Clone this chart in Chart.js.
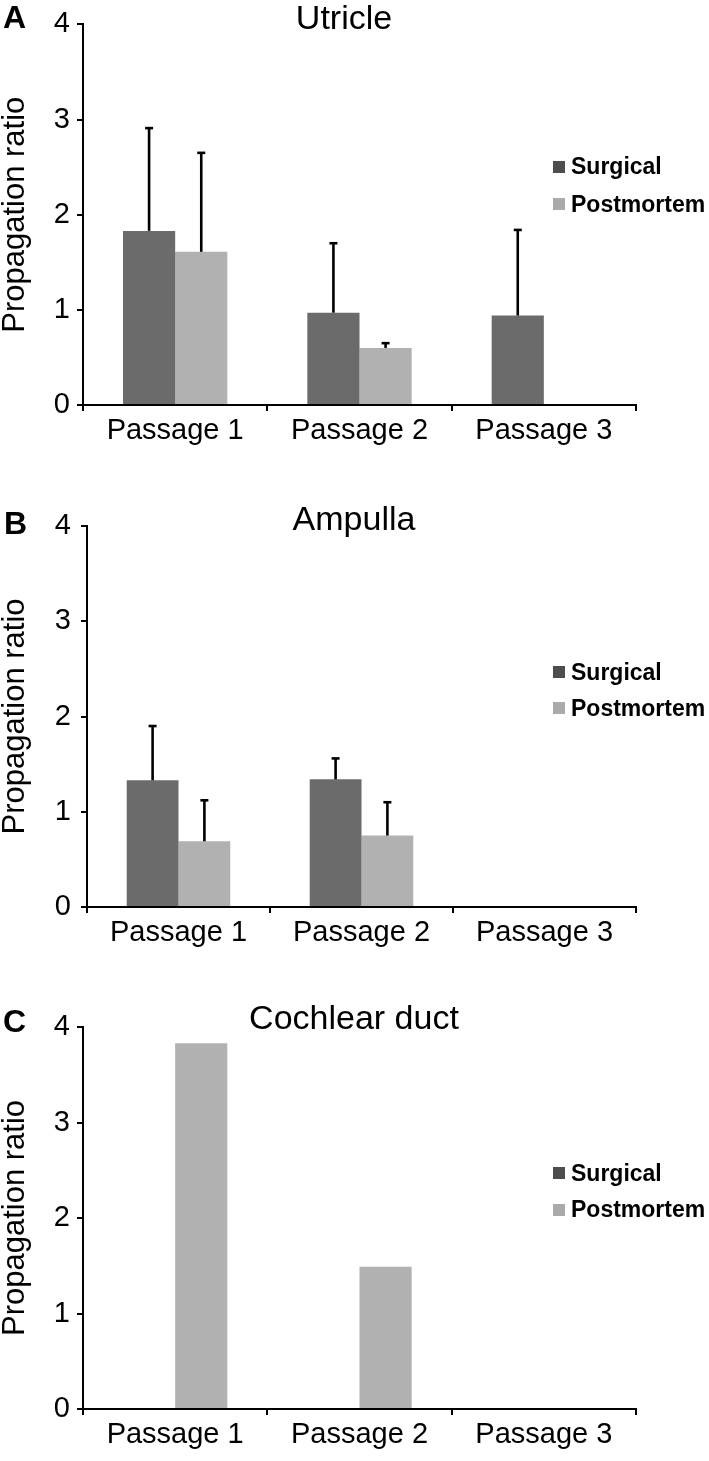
<!DOCTYPE html>
<html><head><meta charset="utf-8">
<script src="https://cdn.jsdelivr.net/npm/chart.js@4.4.0/dist/chart.umd.min.js"></script>
<style>
html,body{margin:0;padding:0;background:#fff;overflow:hidden;width:709px;height:1461px;position:relative;font-family:"Liberation Sans",Arial,sans-serif;color:#000}
canvas{position:absolute;left:0}
.title{position:absolute;width:400px;text-align:center;font-size:34px;line-height:34px;white-space:nowrap}
.letter{position:absolute;font-weight:bold;font-size:32px;line-height:32px}
.legrow{position:absolute;left:553px;height:28px;display:flex;align-items:center;font-weight:bold;font-size:23px;white-space:nowrap}
.sw{width:12px;height:12px;margin-right:6px;flex:none}
</style></head>
<body>
<script>
// ---- data ----
const categories = ['Passage 1', 'Passage 2', 'Passage 3'];
const seriesNames = ['Surgical', 'Postmortem'];
const yTicks = [0, 1, 2, 3, 4];
const panelTitles = ['Utricle', 'Ampulla', 'Cochlear duct'];
const panelLetters = ['A', 'B', 'C'];
const yAxisTitle = 'Propagation ratio';

const utricleSurgical = [1.83, 0.97, 0.94];
const utricleSurgicalErr = [1.08, 0.73, 0.90];
const utriclePostmortem = [1.61, 0.60, null];
const utriclePostmortemErr = [1.04, 0.05, null];

const ampullaSurgical = [1.33, 1.34, null];
const ampullaSurgicalErr = [0.57, 0.22, null];
const ampullaPostmortem = [0.69, 0.75, null];
const ampullaPostmortemErr = [0.43, 0.35, null];

const cochlearSurgical = [null, null, null];
const cochlearPostmortem = [3.83, 1.49, null];

// ---- styles / layout ----
const barColors = ['#6b6b6b', '#b1b1b1'];
const legendColors = ['#4d4d4d', '#aaaaaa'];
const FONT = '"Liberation Sans", Arial, sans-serif';

const panels = [
  {series: [utricleSurgical, utriclePostmortem], errs: [utricleSurgicalErr, utriclePostmortemErr],
   top: 0, height: 455, padTop: 22, axisLeft: 83, tickPad: 7,
   titleCenter: 344, titleBaseline: 28.5, letterX: 3, letterBaseline: 28.3, leg: [166.5, 204]},
  {series: [ampullaSurgical, ampullaPostmortem], errs: [ampullaSurgicalErr, ampullaPostmortemErr],
   top: 470, height: 487, padTop: 56, axisLeft: 87, tickPad: 10,
   titleCenter: 354, titleBaseline: 530, letterX: 4, letterBaseline: 534, leg: [672, 708]},
  {series: [cochlearSurgical, cochlearPostmortem], errs: [null, null],
   top: 970, height: 489, padTop: 57, axisLeft: 83, tickPad: 7,
   titleCenter: 354, titleBaseline: 1029, letterX: 3, letterBaseline: 1031.5, leg: [1173, 1209.5]}
];

const errorBars = {
  id: 'errorBars',
  afterDatasetsDraw(chart) {
    const ctx = chart.ctx, ys = chart.scales.y;
    chart.data.datasets.forEach((ds, i) => {
      if (!ds.errors) return;
      const meta = chart.getDatasetMeta(i);
      meta.data.forEach((bar, j) => {
        const v = ds.data[j], e = ds.errors[j];
        if (v == null || e == null) return;
        const yTop = ys.getPixelForValue(v + e);
        ctx.save();
        ctx.strokeStyle = '#000';
        ctx.lineWidth = 2.6;
        ctx.beginPath(); ctx.moveTo(bar.x, bar.y); ctx.lineTo(bar.x, yTop); ctx.stroke();
        ctx.beginPath(); ctx.moveTo(bar.x - 4, yTop); ctx.lineTo(bar.x + 4, yTop); ctx.stroke();
        ctx.restore();
      });
    });
  }
};

panels.forEach((p, k) => {
  const cv = document.createElement('canvas');
  cv.width = 709; cv.height = p.height;
  cv.style.top = p.top + 'px';
  cv.style.width = '709px'; cv.style.height = p.height + 'px';
  document.body.appendChild(cv);

  new Chart(cv.getContext('2d'), {
    type: 'bar',
    data: {
      labels: categories,
      datasets: seriesNames.map((name, i) => ({
        label: name, data: p.series[i], errors: p.errs[i],
        backgroundColor: barColors[i], borderWidth: 0
      }))
    },
    options: {
      responsive: false, animation: false, devicePixelRatio: 1,
      layout: {padding: {top: p.padTop, right: 73, bottom: 0, left: 0}},
      plugins: {legend: {display: false}, tooltip: {enabled: false}, title: {display: false}},
      datasets: {bar: {categoryPercentage: 0.566, barPercentage: 1}},
      scales: {
        x: {
          grid: {offset: true, drawOnChartArea: false, drawTicks: true, tickLength: 6, color: '#000', lineWidth: 2},
          border: {display: true, color: '#000', width: 2},
          ticks: {color: '#000', font: {family: FONT, size: 29}, padding: 3, maxRotation: 0, autoSkip: false},
          afterFit: s => { s.height = 50; }
        },
        y: {
          min: 0, max: 4,
          afterBuildTicks: s => { s.ticks = yTicks.map(v => ({value: v})); },
          ticks: {color: '#000', font: {family: FONT, size: 29}, padding: p.tickPad},
          grid: {drawOnChartArea: false, drawTicks: true, tickLength: 6, color: '#000', lineWidth: 2},
          border: {display: true, color: '#000', width: 2},
          title: {display: true, text: yAxisTitle, color: '#000', font: {family: FONT, size: 31}, padding: {top: -3, bottom: 0}},
          afterFit: s => { s.width = p.axisLeft; }
        }
      }
    },
    plugins: [errorBars]
  });

  const t = document.createElement('div');
  t.className = 'title';
  t.textContent = panelTitles[k];
  t.style.left = (p.titleCenter - 200) + 'px';
  t.style.top = (p.titleBaseline - 28.8) + 'px';
  document.body.appendChild(t);

  const L = document.createElement('div');
  L.className = 'letter';
  L.textContent = panelLetters[k];
  L.style.left = p.letterX + 'px';
  L.style.top = (p.letterBaseline - 27) + 'px';
  document.body.appendChild(L);

  seriesNames.forEach((name, i) => {
    const r = document.createElement('div');
    r.className = 'legrow';
    r.style.top = (p.leg[i] - 14) + 'px';
    const sw = document.createElement('span');
    sw.className = 'sw'; sw.style.background = legendColors[i];
    const tx = document.createElement('span');
    tx.textContent = name;
    r.appendChild(sw); r.appendChild(tx);
    document.body.appendChild(r);
  });
});
</script>
</body></html>
